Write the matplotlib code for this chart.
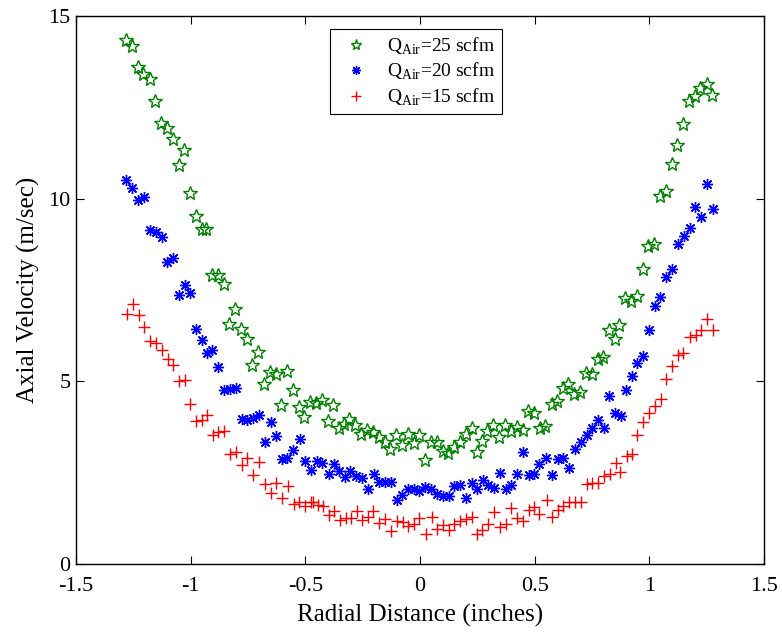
import numpy as np
import matplotlib
matplotlib.use('Agg')
import matplotlib.pyplot as plt

plt.rcParams['font.family'] = ['Liberation Serif', 'DejaVu Serif']
plt.rcParams['mathtext.fontset'] = 'custom'
plt.rcParams['mathtext.rm'] = 'Liberation Serif'

# Q_Air = 25 scfm
x25 = [-1.283, -1.257, -1.230, -1.207, -1.179, -1.154, -1.129, -1.103, -1.079, -1.053,
       -1.028, -1.003, -0.977, -0.952, -0.932, -0.907, -0.881, -0.856, -0.831, -0.807,
       -0.781, -0.756, -0.731, -0.707, -0.680, -0.654, -0.629, -0.605, -0.579, -0.555,
       -0.529, -0.505, -0.478, -0.453, -0.427, -0.401, -0.378, -0.352, -0.333, -0.308,
       -0.282, -0.257, -0.232, -0.206, -0.180, -0.154, -0.130, -0.104, -0.079, -0.054,
       -0.027, -0.003, 0.022, 0.048, 0.073, 0.099, 0.123, 0.148, 0.174, 0.199,
       0.225, 0.250, 0.269, 0.293, 0.320, 0.345, 0.371, 0.396, 0.421, 0.447,
       0.472, 0.497, 0.523, 0.545, 0.574, 0.599, 0.622, 0.647, 0.673, 0.698,
       0.724, 0.749, 0.775, 0.799, 0.824, 0.851, 0.869, 0.894, 0.919, 0.945,
       0.971, 0.996, 1.021, 1.047, 1.072, 1.098, 1.122, 1.147, 1.173, 1.198,
       1.223, 1.250, 1.273]
y25 = [14.35, 14.19, 13.60, 13.40, 13.28, 12.66, 12.07, 11.93, 11.63, 10.93,
       11.34, 10.16, 9.52, 9.17, 9.17, 7.91, 7.91, 7.66, 6.58, 6.98,
       6.44, 6.15, 5.45, 5.80, 4.92, 5.26, 5.19, 4.34, 5.28, 4.75,
       4.29, 4.02, 4.44, 4.41, 4.50, 3.91, 4.35, 3.73, 3.84, 3.98,
       3.80, 3.57, 3.68, 3.62, 3.47, 3.33, 3.16, 3.53, 3.27, 3.57,
       3.31, 3.53, 2.86, 3.34, 3.34, 3.09, 3.04, 3.20, 3.34, 3.56,
       3.73, 3.07, 3.38, 3.64, 3.80, 3.47, 3.80, 3.65, 3.75, 3.68,
       4.20, 4.14, 3.73, 3.77, 4.37, 4.46, 4.81, 4.93, 4.66, 4.71,
       5.23, 5.19, 5.60, 5.67, 6.40, 6.17, 6.54, 7.29, 7.20, 7.34,
       8.07, 8.71, 8.77, 10.06, 10.22, 10.95, 11.47, 12.05, 12.67, 12.81,
       13.04, 13.13, 12.85]

# Q_Air = 20 scfm
x20 = [-1.281, -1.255, -1.230, -1.204, -1.177, -1.153, -1.126, -1.102, -1.077, -1.051,
       -1.026, -1.002, -0.976, -0.951, -0.930, -0.906, -0.880, -0.855, -0.830, -0.804,
       -0.778, -0.753, -0.728, -0.703, -0.677, -0.651, -0.627, -0.601, -0.579, -0.553,
       -0.525, -0.502, -0.475, -0.451, -0.426, -0.398, -0.375, -0.352, -0.328, -0.304,
       -0.278, -0.252, -0.227, -0.202, -0.177, -0.153, -0.128, -0.102, -0.079, -0.052,
       -0.027, -0.003, 0.023, 0.048, 0.074, 0.099, 0.125, 0.150, 0.174, 0.201,
       0.225, 0.250, 0.273, 0.298, 0.323, 0.348, 0.374, 0.398, 0.423, 0.447,
       0.474, 0.498, 0.520, 0.549, 0.574, 0.600, 0.625, 0.651, 0.676, 0.701,
       0.727, 0.751, 0.776, 0.803, 0.826, 0.851, 0.875, 0.898, 0.923, 0.948,
       0.974, 0.999, 1.024, 1.048, 1.073, 1.099, 1.124, 1.150, 1.176, 1.201,
       1.227, 1.252, 1.276]
y20 = [10.52, 10.29, 9.97, 10.04, 9.15, 9.09, 8.94, 8.28, 8.37, 7.36,
       7.64, 7.43, 6.42, 6.13, 5.78, 5.85, 5.39, 4.76, 4.78, 4.82,
       3.96, 3.93, 4.00, 4.09, 3.34, 3.89, 3.50, 2.88, 2.90, 3.13,
       3.42, 2.81, 2.58, 2.81, 2.77, 2.46, 2.74, 2.54, 2.38, 2.54,
       2.42, 2.35, 2.06, 2.45, 2.24, 2.24, 2.24, 1.76, 1.90, 2.04,
       2.04, 2.01, 2.10, 2.06, 1.92, 1.85, 1.85, 2.13, 2.15, 1.81,
       2.22, 2.04, 2.31, 2.15, 2.08, 2.49, 2.06, 2.17, 2.46, 3.07,
       2.43, 2.45, 2.74, 2.90, 2.43, 2.88, 2.90, 2.63, 3.16, 3.34,
       3.54, 3.73, 3.94, 3.73, 4.60, 4.12, 4.05, 4.76, 5.14, 5.49,
       5.69, 6.40, 7.06, 7.32, 7.86, 8.08, 8.76, 8.97, 9.21, 9.76,
       9.50, 10.39, 9.73]

# Q_Air = 15 scfm
x15 = [-1.279, -1.253, -1.227, -1.202, -1.176, -1.151, -1.127, -1.099, -1.076, -1.050,
       -1.026, -1.002, -0.976, -0.952, -0.930, -0.904, -0.880, -0.855, -0.830, -0.804,
       -0.778, -0.753, -0.727, -0.702, -0.676, -0.651, -0.627, -0.601, -0.576, -0.550,
       -0.526, -0.502, -0.475, -0.465, -0.444, -0.422, -0.396, -0.374, -0.349, -0.324,
       -0.300, -0.276, -0.252, -0.227, -0.204, -0.177, -0.151, -0.128, -0.102, -0.075,
       -0.052, -0.027, -0.003, 0.025, 0.052, 0.075, 0.102, 0.125, 0.148, 0.174,
       0.199, 0.227, 0.250, 0.270, 0.298, 0.323, 0.349, 0.374, 0.398, 0.424,
       0.447, 0.474, 0.498, 0.520, 0.553, 0.576, 0.602, 0.625, 0.651, 0.676,
       0.701, 0.727, 0.751, 0.778, 0.802, 0.829, 0.853, 0.872, 0.901, 0.923,
       0.948, 0.974, 0.999, 1.025, 1.050, 1.073, 1.100, 1.124, 1.148, 1.177,
       1.202, 1.227, 1.252, 1.277]
y15 = [6.84, 7.11, 6.82, 6.49, 6.10, 6.06, 5.85, 5.60, 5.45, 5.01,
       5.03, 4.37, 3.91, 3.93, 4.07, 3.54, 3.62, 3.64, 3.01, 3.07,
       2.72, 2.90, 2.43, 2.78, 2.19, 1.94, 2.22, 1.82, 2.13, 1.64,
       1.71, 1.60, 1.70, 1.70, 1.62, 1.58, 1.35, 1.46, 1.20, 1.26,
       1.26, 1.46, 1.21, 1.30, 1.46, 1.12, 1.23, 0.91, 1.17, 1.15,
       1.03, 1.10, 1.26, 0.83, 1.28, 0.95, 1.08, 0.92, 1.09, 1.18,
       1.24, 1.30, 0.82, 0.94, 1.09, 1.42, 1.01, 1.09, 1.53, 1.26,
       1.17, 1.47, 1.56, 1.38, 1.76, 1.28, 1.49, 1.58, 1.69, 1.70,
       1.71, 2.20, 2.22, 2.22, 2.42, 2.46, 2.77, 2.51, 2.97, 3.00,
       3.53, 3.88, 4.14, 4.32, 4.53, 5.07, 5.42, 5.71, 5.78, 6.21,
       6.26, 6.40, 6.72, 6.41]

labels = [r'Q$_{\mathrm{Air}}$=25 scfm', r'Q$_{\mathrm{Air}}$=20 scfm', r'Q$_{\mathrm{Air}}$=15 scfm']


def main():
    fig = plt.figure(figsize=(7.82, 6.35), dpi=100)
    ax = fig.add_axes([0.0972, 0.1118, 0.8798, 0.8630])

    # MATLAB-like markers: pentagram, asterisk, plus
    ax.plot(x25, y25, '*', color='#008000', mfc='none', ms=10, mew=1.0, label=labels[0])
    ax.plot(x20, y20, marker=(8, 2, 0), ls='none', color='#0000ff', ms=8, mew=1.0, label=labels[1])
    ax.plot(x15, y15, '+', color='#ff0000', ms=9, mew=1.0, label=labels[2])

    ax.set_xlim(-1.5, 1.5)
    ax.set_ylim(0, 15)
    ax.set_xticks([-1.5, -1, -0.5, 0, 0.5, 1, 1.5])
    ax.set_xticklabels(['-1.5', '-1', '-0.5', '0', '0.5', '1', '1.5'])
    ax.set_yticks([0, 5, 10, 15])
    ax.tick_params(direction='in', top=True, right=True, length=6, labelsize=16)
    ax.tick_params(axis='x', pad=9)
    ax.tick_params(axis='y', pad=4)
    for sp in ax.spines.values():
        sp.set_linewidth(1.0)

    ax.set_xlabel('Radial Distance (inches)', fontsize=18, labelpad=6)
    ax.set_ylabel('Axial Velocity (m/sec)', fontsize=18, labelpad=6)

    leg = ax.legend(loc='upper left', bbox_to_anchor=(0.369, 0.976), fontsize=14,
                    fancybox=False, edgecolor='black', framealpha=1,
                    handlelength=2.0, handletextpad=0.6, borderpad=0.35,
                    borderaxespad=0, labelspacing=0.2, markerscale=0.8)
    leg.get_frame().set_linewidth(0.8)

    fig.savefig('out.png', dpi=100)


if __name__ == "__main__":
    main()
